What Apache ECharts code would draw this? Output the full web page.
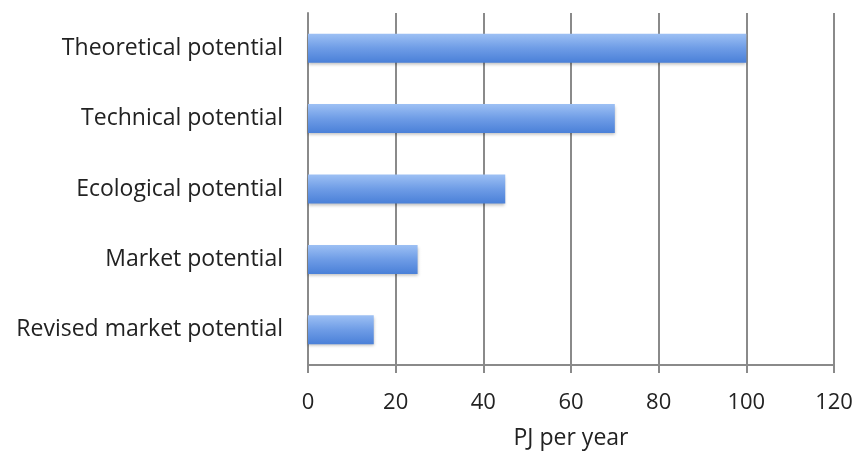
<!DOCTYPE html>
<html>
<head>
<meta charset="utf-8">
<script src="https://cdn.jsdelivr.net/npm/echarts@6/dist/echarts.min.js"></script>
<style>
  html, body { margin: 0; padding: 0; background: #fff; }
  #chart { width: 856px; height: 452px; }
</style>
</head>
<body>
<div id="chart"></div>
<script>
// Energy potential categories (top to bottom as displayed)
const categories = [
  'Theoretical potential',
  'Technical potential',
  'Ecological potential',
  'Market potential',
  'Revised market potential'
];
// PJ per year for each category
const values = [100, 70, 45, 25, 15];
const xTicks = [0, 20, 40, 60, 80, 100, 120];

const FONT = '"Open Sans", sans-serif';
const chart = echarts.init(document.getElementById('chart'));

chart.setOption({
  animation: false,
  backgroundColor: '#ffffff',
  grid: { left: 308, right: 22, top: 13, bottom: 87, containLabel: false, outerBoundsMode: 'none' },
  xAxis: {
    type: 'value',
    min: xTicks[0],
    max: xTicks[xTicks.length - 1],
    interval: xTicks[1] - xTicks[0],
    name: 'PJ per year',
    nameLocation: 'middle',
    nameGap: 62,
    nameTextStyle: { fontFamily: FONT, fontSize: 23, color: '#222' },
    axisLine: { show: true, lineStyle: { color: '#8a8a8a', width: 2 } },
    axisTick: { show: true, length: 8, lineStyle: { color: '#8a8a8a', width: 2 } },
    axisLabel: { fontFamily: FONT, fontSize: 22, color: '#222', margin: 27 },
    splitLine: { show: true, lineStyle: { color: '#8a8a8a', width: 2 } }
  },
  yAxis: {
    type: 'category',
    data: categories,
    inverse: true,
    axisLine: { show: true, lineStyle: { color: '#8a8a8a', width: 2 } },
    axisTick: { show: false },
    axisLabel: { fontFamily: FONT, fontSize: 23, color: '#222', margin: 25, padding: [5, 0, 0, 0] }
  },
  series: [{
    type: 'bar',
    data: values,
    barWidth: 29,
    itemStyle: {
      color: new echarts.graphic.LinearGradient(0, 0, 0, 1, [
        { offset: 0, color: '#9dc0f4' },
        { offset: 0.5, color: '#6e9ce6' },
        { offset: 1, color: '#4a80d8' }
      ]),
      shadowColor: 'rgba(0,0,0,0.25)',
      shadowBlur: 3,
      shadowOffsetY: 2
    }
  }]
});
</script>
</body>
</html>
